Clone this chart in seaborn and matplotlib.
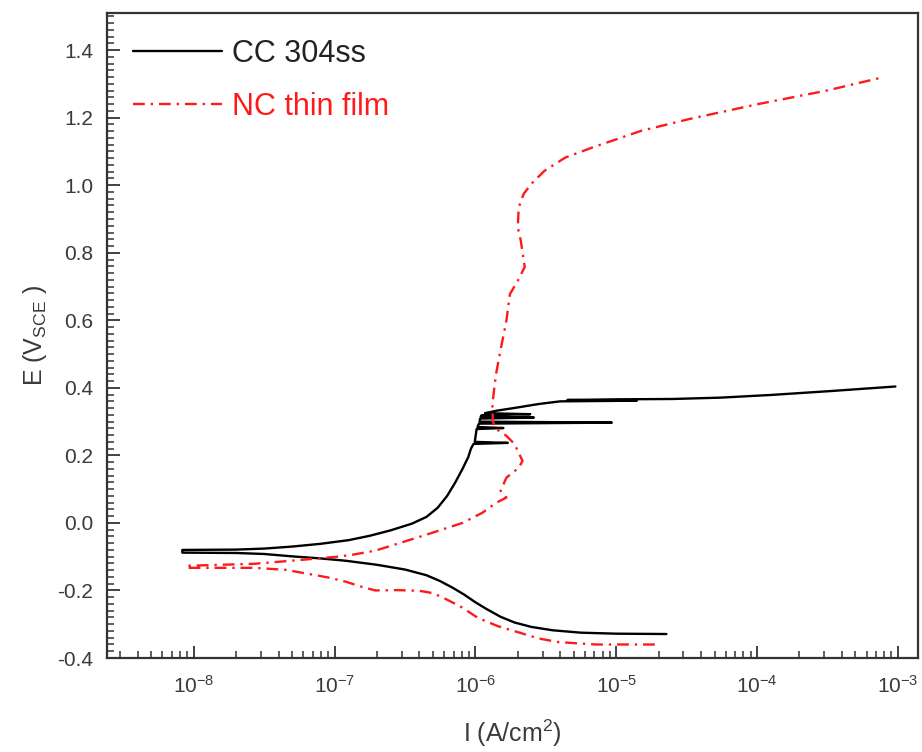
import numpy as np
import pandas as pd
import matplotlib
matplotlib.use('Agg')
import matplotlib.pyplot as plt
import seaborn as sns
from matplotlib.ticker import MultipleLocator, FormatStrFormatter, FixedLocator, LogLocator, NullFormatter

# CC 304ss: one polarization scan, cathodic end -> Ecorr -> anodic (with pitting transients)
cc_current = [2.27e-5, 1.0e-5, 5.6e-6, 3.55e-6, 2.5e-6, 1.9e-6, 1.51e-6, 1.2e-6, 1.0e-6,
              8.3e-7, 6.9e-7, 5.6e-7, 4.5e-7, 3.16e-7, 2.0e-7, 1.2e-7, 7.9e-8, 5.0e-8,
              3.16e-8, 2.0e-8, 8.3e-9,
              8.3e-9, 2.0e-8, 3.16e-8, 5.0e-8, 7.9e-8, 1.26e-7, 1.78e-7, 2.5e-7, 3.55e-7,
              4.5e-7, 5.4e-7, 6.3e-7, 7.2e-7, 8.1e-7, 8.9e-7, 9.3e-7, 9.7e-7,
              1.7e-6, 9.9e-7, 1.02e-6, 1.58e-6, 1.035e-6,
              1.06e-6, 9.3e-6, 1.07e-6, 1.08e-6, 2.6e-6, 1.09e-6, 1.11e-6, 2.45e-6, 1.17e-6,
              1.4e-6, 2.0e-6, 2.8e-6, 4.0e-6, 1.4e-5, 4.5e-6, 1.0e-5, 2.5e-5, 5.5e-5,
              1.26e-4, 3.2e-4, 9.6e-4]
cc_potential = [-0.329, -0.328, -0.325, -0.318, -0.308, -0.295, -0.278, -0.255, -0.235,
                -0.212, -0.192, -0.172, -0.155, -0.138, -0.124, -0.112, -0.105, -0.099,
                -0.092, -0.089, -0.088,
                -0.080, -0.079, -0.076, -0.070, -0.062, -0.051, -0.038, -0.022, -0.002,
                0.018, 0.045, 0.080, 0.120, 0.160, 0.195, 0.220, 0.234,
                0.237, 0.240, 0.278, 0.281, 0.284,
                0.294, 0.297, 0.300, 0.309, 0.312, 0.315, 0.319, 0.322, 0.325,
                0.332, 0.342, 0.352, 0.360, 0.362, 0.364, 0.366, 0.367, 0.371,
                0.379, 0.390, 0.404]

# NC thin film
nc_current = [1.88e-5, 7.2e-6, 3.9e-6, 2.8e-6, 2.1e-6, 1.45e-6, 1.05e-6, 7.8e-7, 6.0e-7,
              5.0e-7, 4.0e-7, 2.8e-7, 1.95e-7, 1.58e-7, 1.2e-7, 9.1e-8, 7.2e-8, 4.5e-8,
              2.7e-8, 8.9e-9,
              8.9e-9, 2.7e-8, 5.6e-8, 1.05e-7, 1.35e-7, 1.95e-7, 4.4e-7, 8.1e-7, 1.12e-6,
              1.41e-6, 1.66e-6, 1.51e-6, 1.66e-6, 2.04e-6, 2.16e-6, 2.0e-6, 1.9e-6, 1.66e-6,
              1.41e-6, 1.33e-6, 1.32e-6, 1.4e-6, 1.52e-6, 1.66e-6, 1.76e-6, 2.0e-6, 2.24e-6,
              2.1e-6, 2.0e-6, 2.03e-6, 2.2e-6, 2.48e-6, 3.1e-6, 4.35e-6, 6.8e-6, 1.5e-5,
              3.3e-5, 1.01e-4, 3.1e-4, 7.7e-4]
nc_potential = [-0.360, -0.360, -0.353, -0.342, -0.326, -0.306, -0.282, -0.247, -0.223,
                -0.208, -0.201, -0.199, -0.200, -0.190, -0.174, -0.162, -0.154, -0.139,
                -0.133, -0.133,
                -0.127, -0.121, -0.110, -0.100, -0.094, -0.082, -0.036, 0.000, 0.030,
                0.060, 0.075, 0.095, 0.134, 0.164, 0.184, 0.213, 0.233, 0.258,
                0.278, 0.300, 0.352, 0.440, 0.519, 0.599, 0.678, 0.717, 0.758,
                0.836, 0.875, 0.934, 0.974, 1.003, 1.043, 1.082, 1.112, 1.161,
                1.196, 1.240, 1.280, 1.319]

x_ticks = [1e-8, 1e-7, 1e-6, 1e-5, 1e-4, 1e-3]

df = pd.concat([
    pd.DataFrame({'I': cc_current, 'E': cc_potential, 'sample': 'CC 304ss'}),
    pd.DataFrame({'I': nc_current, 'E': nc_potential, 'sample': 'NC thin film'}),
], ignore_index=True)

sns.set_style('ticks')
plt.rcParams['font.family'] = ['Liberation Sans', 'DejaVu Sans']
plt.rcParams['mathtext.fontset'] = 'custom'
plt.rcParams['mathtext.rm'] = 'Liberation Sans'
plt.rcParams['mathtext.it'] = 'Liberation Sans:italic'
plt.rcParams['mathtext.bf'] = 'Liberation Sans:bold'

fig = plt.figure(figsize=(9.22, 7.52), dpi=100)
ax = fig.add_axes([0.116, 0.125, 0.8797, 0.8577])
ax.set_xscale('log')

sns.lineplot(data=df, x='I', y='E', hue='sample', style='sample',
             palette={'CC 304ss': 'black', 'NC thin film': '#ff1a1a'},
             dashes={'CC 304ss': '', 'NC thin film': (5, 2.5, 1, 2.5)},
             sort=False, estimator=None, linewidth=1.7, ax=ax)

ax.set_xlim(2.42e-9, 1.39e-3)
ax.set_ylim(-0.4, 1.51)

ax.yaxis.set_major_locator(MultipleLocator(0.2))
ax.yaxis.set_minor_locator(MultipleLocator(0.02))
ax.yaxis.set_major_formatter(FormatStrFormatter('%.1f'))
ax.xaxis.set_major_locator(FixedLocator(x_ticks))
ax.xaxis.set_minor_locator(LogLocator(base=10, subs=np.arange(2, 10), numticks=20))
ax.xaxis.set_minor_formatter(NullFormatter())

ax.tick_params(which='both', direction='in', top=False, right=False, colors='#333333')
ax.tick_params(which='major', length=9, width=1.3, labelsize=15, labelcolor='#3a3a3a')
ax.tick_params(which='minor', length=5, width=1.1)
ax.tick_params(axis='y', which='major', pad=10)
ax.tick_params(axis='x', which='major', pad=12)
for s in ax.spines.values():
    s.set_linewidth(1.6)
    s.set_color('#333333')

ax.set_xlabel('I (A/cm$^2$)', fontsize=18, color='#3a3a3a', labelpad=15)
ax.set_ylabel('E (V$_{\\mathrm{SCE}}$ )', fontsize=18, color='#3a3a3a', labelpad=6)

handles, labels = ax.get_legend_handles_labels()
ax.legend(handles, labels, loc='upper left', frameon=False, fontsize=22,
          handlelength=2.9, handletextpad=0.35, labelspacing=0.75,
          borderaxespad=0.45, labelcolor=['#222222', '#ff1a1a'])

fig.savefig('out.png', dpi=100)
